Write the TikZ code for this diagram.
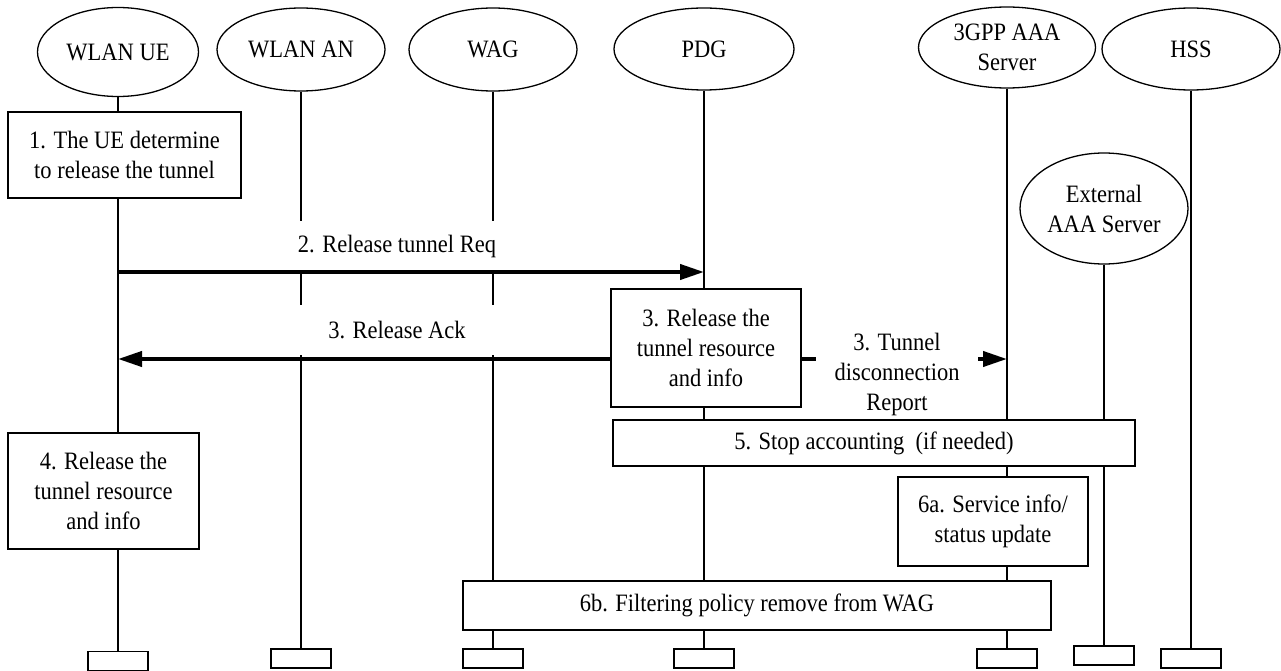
\documentclass[tikz,border=0pt]{standalone}
\usepackage{fontspec}
\setmainfont[FakeStretch=0.9]{Liberation Serif}
\usetikzlibrary{shapes.geometric,arrows.meta}
\begin{document}
\begin{tikzpicture}[x=1pt,y=-1pt,
  every node/.style={font=\fontsize{25}{30}\selectfont, inner sep=0pt},
  actor/.style={draw, ellipse, line width=1.3pt, align=center},
  endbox/.style={draw, line width=1.5pt, minimum width=60pt, minimum height=19pt},
  stepbox/.style={draw, fill=white, line width=1.5pt, align=center},
  lifeline/.style={line width=1.3pt},
  msg/.style={line width=4pt, -{Triangle[length=24pt,width=15pt]}},
  lbl/.style={fill=white, align=center}]
\useasboundingbox (0,0) rectangle (1281,671);
% actors
\node[actor, minimum width=161pt, minimum height=89pt] (ue) at (118,52) {WLAN UE};
\node[actor, minimum width=168pt, minimum height=83pt] (an) at (301,49.5) {WLAN AN};
\node[actor, minimum width=168pt, minimum height=83pt] (wag) at (493,49.5) {WAG};
\node[actor, minimum width=180pt, minimum height=82pt] (pdg) at (704,49) {PDG};
\node[actor, minimum width=177pt, minimum height=81pt] (aaa) at (1007,47.5) {3GPP AAA\\Server};
\node[actor, minimum width=178pt, minimum height=82pt] (hss) at (1191,49) {HSS};
\node[actor, minimum width=168pt, minimum height=111pt] (ext) at (1104,208.5) {External\\AAA Server};
% end boxes
\node[endbox] (ueE) at (118,661) {};
\node[endbox] (anE) at (301,658.5) {};
\node[endbox] (wagE) at (493,658.5) {};
\node[endbox] (pdgE) at (704,658.5) {};
\node[endbox] (aaaE) at (1007,658.5) {};
\node[endbox] (extE) at (1104,655.5) {};
\node[endbox] (hssE) at (1191,658.5) {};
% lifelines
\draw[lifeline] (ue) -- (ueE);
\draw[lifeline] (an) -- (anE);
\draw[lifeline] (wag) -- (wagE);
\draw[lifeline] (pdg) -- (pdgE);
\draw[lifeline] (aaa) -- (aaaE);
\draw[lifeline] (ext) -- (extE);
\draw[lifeline] (hss) -- (hssE);
% message labels
\node[lbl, minimum width=230pt, minimum height=50pt] (l2) at (397,246) {2. Release tunnel Req};
\node[lbl, minimum width=230pt, minimum height=50pt] (l3) at (397,330) {3. Release Ack};
% steps
\node[stepbox, minimum width=233pt, minimum height=86pt] (s1) at (124.5,155) {1. The UE determine\\to release the tunnel};
\node[stepbox, minimum width=190pt, minimum height=118pt] (s3) at (706,348) {3. Release the\\tunnel resource\\and info};
\node[stepbox, minimum width=191pt, minimum height=116pt] (s4) at (103.5,491) {4. Release the\\tunnel resource\\and info};
% arrows
\coordinate (y2) at (0,272);
\coordinate (y3) at (0,359);
\draw[msg] (ue |- y2) -- (pdg |- y2);
\draw[msg] (s3.west |- y3) -- (ue |- y3);
\draw[msg] (s3.east |- y3) -- (aaa |- y3);
\node[lbl, minimum width=162pt] (lt) at (897,374) {3. Tunnel\\disconnection\\Report};
\node[stepbox, minimum width=522pt, minimum height=46pt] (s5) at (874,443) {5. Stop accounting~~(if needed)};
\node[stepbox, minimum width=190pt, minimum height=89pt] (s6a) at (993,521.5) {6a. Service info/\\status update};
\node[stepbox, minimum width=588pt, minimum height=49pt] (s6b) at (757,605.5) {6b. Filtering policy remove from WAG};
\end{tikzpicture}
\end{document}
